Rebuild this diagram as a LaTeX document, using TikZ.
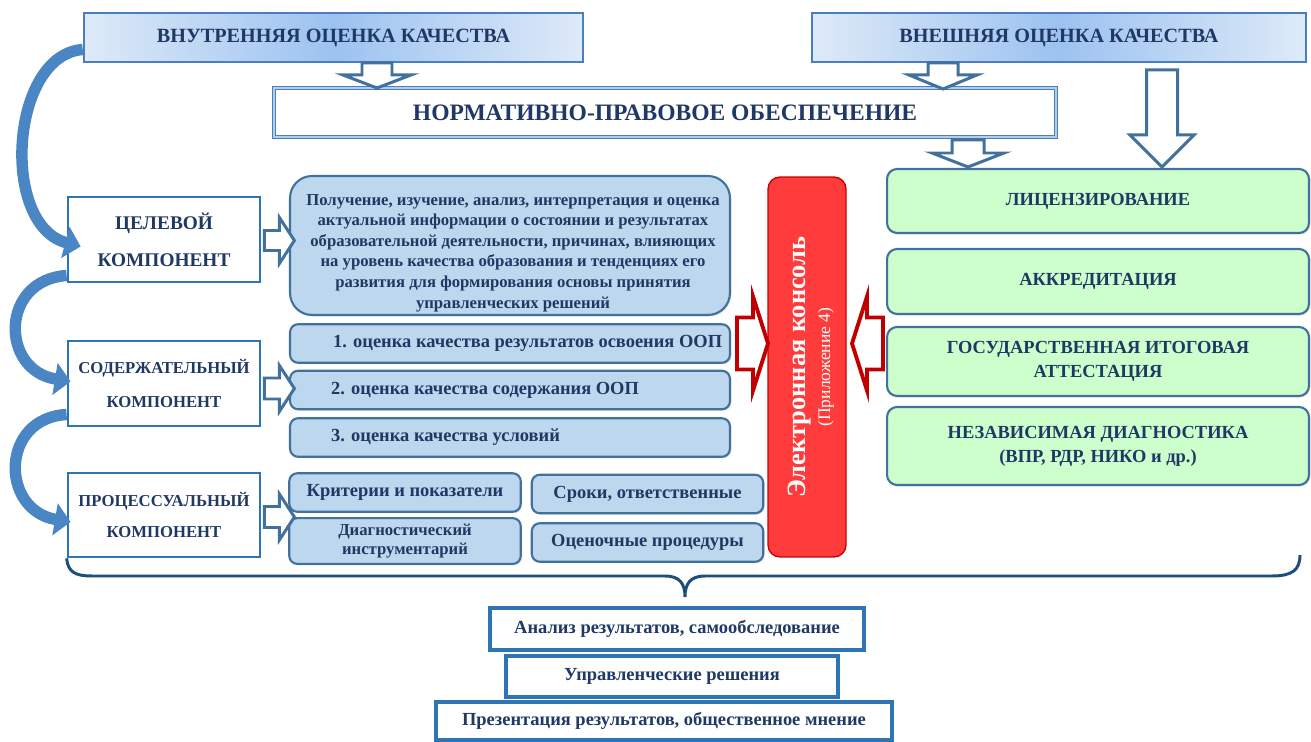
\documentclass[tikz,border=0pt]{standalone}
\usepackage{fontspec}
\setmainfont{Liberation Serif}
\usetikzlibrary{arrows.meta,calc,shadows}

\definecolor{navy}{HTML}{1F3864}
\definecolor{steel}{HTML}{41719C}
\definecolor{brightblue}{HTML}{2E75B6}
\definecolor{titleedge}{HTML}{4A7EBF}
\definecolor{paleblue}{HTML}{BDD7EE}
\definecolor{titlelight}{HTML}{DEEAF8}
\definecolor{titlemid}{HTML}{9CC2F0}
\definecolor{normline}{HTML}{B4CDEA}
\definecolor{palegreen}{HTML}{CCFFCC}
\definecolor{consolered}{HTML}{FF3B3B}
\definecolor{darkred}{HTML}{C00000}
\definecolor{ribbon}{HTML}{4A86C4}
\definecolor{bracecol}{HTML}{1F4E79}

% hollow block arrow: [style]{start}{angle}{length}{half shaft}{half head}{head length}
\newcommand{\blockarrow}[7][]{%
  \draw[#1,shift={#2},rotate=#3] (0,-#5) -- ({#4-#7},-#5) -- ({#4-#7},-#6)
    -- (#4,0) -- ({#4-#7},#6) -- ({#4-#7},#5) -- (0,#5) -- cycle;}

\tikzset{
  softshadow/.style={drop shadow={opacity=0.25,shadow xshift=0.8pt,shadow yshift=-0.8pt}},
  titlebox/.style={draw=titleedge, line width=1.5pt, left color=titlelight,
    right color=titlelight, middle color=titlemid, minimum height=0.98cm,
    font=\fontsize{11.5}{13}\selectfont\bfseries, softshadow},
  normbox/.style={draw=titleedge, double=normline, double distance=1.1pt,
    line width=0.5pt, fill=white, minimum width=15.64cm, minimum height=0.98cm,
    font=\fontsize{13.4}{15}\selectfont\bfseries, softshadow},
  compbox/.style={draw=brightblue, line width=1.6pt, fill=white,
    minimum width=3.84cm, minimum height=1.7cm, align=center, softshadow},
  infobox/.style={draw=steel, line width=1.2pt, fill=paleblue,
    rounded corners=0.44cm, minimum width=8.8cm, minimum height=2.78cm, softshadow},
  item/.style={draw=steel, line width=1.2pt, fill=paleblue,
    rounded corners=0.16cm, minimum width=8.8cm, minimum height=0.77cm, softshadow},
  smallbox/.style={draw=steel, line width=1.2pt, fill=paleblue,
    rounded corners=0.16cm, minimum width=4.63cm, minimum height=0.77cm,
    align=center, softshadow},
  greenbox/.style={draw=steel, line width=1.2pt, fill=palegreen,
    rounded corners=0.2cm, minimum width=8.44cm, align=center,
    font=\fontsize{10.5}{13.6}\selectfont\bfseries, softshadow},
  resultbox/.style={draw=brightblue, line width=1.8pt, fill=white,
    minimum height=0.8cm, font=\fontsize{10.5}{12}\selectfont\bfseries, softshadow},
  hollow/.style={draw=steel, fill=white, line width=1.7pt},
  redhollow/.style={draw=darkred, fill=white, line width=2.2pt},
  swoop/.style={draw=ribbon, line width=6.5pt, -{Triangle[width=18pt,length=9pt]}},
  bracket/.style={draw=bracecol, line width=1.7pt}
}

\begin{document}
\begin{tikzpicture}[x=0.02cm, y=-0.02cm, every node/.style={text=navy}]
  \useasboundingbox (0,0) rectangle (1311,742);

  % top row
  \node[titlebox, minimum width=9.98cm] (inner) at (333.5,37.5) {ВНУТРЕННЯЯ ОЦЕНКА КАЧЕСТВА};
  \node[titlebox, minimum width=9.88cm] (outer) at (1059,37.5) {ВНЕШНЯЯ ОЦЕНКА КАЧЕСТВА};
  \node[normbox] (norm) at (665,112.5) {НОРМАТИВНО-ПРАВОВОЕ ОБЕСПЕЧЕНИЕ};

  % components
  \node[compbox, font=\fontsize{11}{21}\selectfont\bfseries] (goal) at (164,239.5) {ЦЕЛЕВОЙ\\КОМПОНЕНТ};
  \node[compbox, font=\fontsize{9.5}{19}\selectfont\bfseries] (content) at (164,383.5) {СОДЕРЖАТЕЛЬНЫЙ\\КОМПОНЕНТ};
  \node[compbox, font=\fontsize{9.5}{18}\selectfont\bfseries, minimum height=1.68cm] (process) at (164,515) {ПРОЦЕССУАЛЬНЫЙ\\КОМПОНЕНТ};

  % middle column
  \node[infobox] (info) at (510,245.5) {};
  \node[align=center, font=\fontsize{9.5}{11.7}\selectfont\bfseries] (infotext) at (513,253)
    {Получение, изучение, анализ, интерпретация и оценка\\
     актуальной информации о состоянии и результатах\\
     образовательной деятельности, причинах, влияющих\\
     на уровень качества образования и тенденциях его\\
     развития для формирования основы принятия\\
     управленческих решений};
  \node[item] (q1) at (510,343.5) {};
  \node[item] (q2) at (510,390) {};
  \node[item] (q3) at (510,437.5) {};
  \node[font=\fontsize{10.5}{12}\selectfont\bfseries, anchor=west] (q1t) at ($(q1.west)+(38,0)$) {1. оценка качества результатов освоения ООП};
  \node[font=\fontsize{10.5}{12}\selectfont\bfseries, anchor=west] (q2t) at ($(q2.west)+(36,0)$) {2. оценка качества содержания ООП};
  \node[font=\fontsize{10.5}{12}\selectfont\bfseries, anchor=west] (q3t) at ($(q3.west)+(36,0)$) {3. оценка качества условий};

  \node[smallbox, font=\fontsize{10.5}{12}\selectfont\bfseries] (crit) at (405,492.5) {Критерии и показатели};
  \node[smallbox, font=\fontsize{9.5}{10.8}\selectfont\bfseries] (diag) at (405,541) {Диагностический\\инструментарий};
  \node[smallbox, font=\fontsize{10.5}{12}\selectfont\bfseries] (term) at (647.5,494) {Сроки, ответственные};
  \node[smallbox, font=\fontsize{10.5}{12}\selectfont\bfseries] (proc) at (647.5,542.5) {Оценочные процедуры};

  % console
  \node[draw=red!80!black, line width=0.8pt, fill=consolered, rounded corners=0.24cm,
        minimum width=1.56cm, minimum height=7.6cm] (ecc) at (807,367) {};
  \node[rotate=90, align=center, text=white, font=\fontsize{15}{14}\selectfont\bfseries] (ecct) at (811,367)
    {Электронная консоль\\{\mdseries\fontsize{10}{14}\selectfont (Приложение 4)}};

  % external column
  \node[greenbox, minimum height=1.28cm] (lic) at (1098,201) {ЛИЦЕНЗИРОВАНИЕ};
  \node[greenbox, minimum height=1.3cm] (accr) at (1098,281.5) {АККРЕДИТАЦИЯ};
  \node[greenbox, minimum height=1.38cm] (gia) at (1098,361.5) {ГОСУДАРСТВЕННАЯ ИТОГОВАЯ\\АТТЕСТАЦИЯ};
  \node[greenbox, minimum height=1.56cm] (ind) at (1098,446) {НЕЗАВИСИМАЯ ДИАГНОСТИКА\\(ВПР, РДР, НИКО и др.)};

  % results
  \node[resultbox, minimum width=7.48cm, minimum height=0.84cm] (res) at (677,629) {Анализ результатов, самообследование};
  \node[resultbox, minimum width=6.64cm, minimum height=0.82cm] (dec) at (672,676.5) {Управленческие решения};
  \node[resultbox, minimum width=9.12cm, minimum height=0.76cm] (pres) at (664,721) {Презентация результатов, общественное мнение};

  % hollow arrows
  \blockarrow[hollow]{(377,63)}{-90}{25}{15}{34}{13}
  \blockarrow[hollow]{(943,63)}{-90}{26}{15}{34}{14}
  \blockarrow[hollow]{(968,140)}{-90}{27}{16}{36}{14}
  \blockarrow[hollow]{(1162,70)}{-90}{97}{15.5}{32}{32}
  \blockarrow[hollow]{($(goal.east)+(3,1)$)}{0}{30}{10}{23}{15}
  \blockarrow[hollow]{($(content.east)+(3,5)$)}{0}{30}{10.5}{23}{15}
  \blockarrow[hollow]{($(process.east)+(3,2)$)}{0}{30}{10.5}{23}{15}
  \blockarrow[redhollow]{(737,343.5)}{0}{31}{26}{47}{15}
  \blockarrow[redhollow]{(883,343.5)}{180}{31}{26}{47}{15}

  % curved arrows
  \draw[swoop] ($(inner.west)+(0,12)$) .. controls (10,55) and (0,225) .. ($(goal.west)+(14,7)$);
  \draw[swoop] ($(goal.west)+(0,36)$) .. controls (0,280) and (0,370) .. ($(content.west)+(4,-2)$);
  \draw[swoop] ($(content.west)+(0,31)$) .. controls (0,418) and (0,510) .. ($(process.west)+(4,7)$);

  % brace
  \draw[bracket] (process.south west) .. controls (68,572) and (75,576) .. (92,576) -- (665,576)
    .. controls (680,576) and (685,584) .. (685,597) .. controls (685,584) and (690,576) .. (705,576)
    -- (1272,576) .. controls (1292,576) and (1300,570) .. (1300,555);
\end{tikzpicture}
\end{document}
